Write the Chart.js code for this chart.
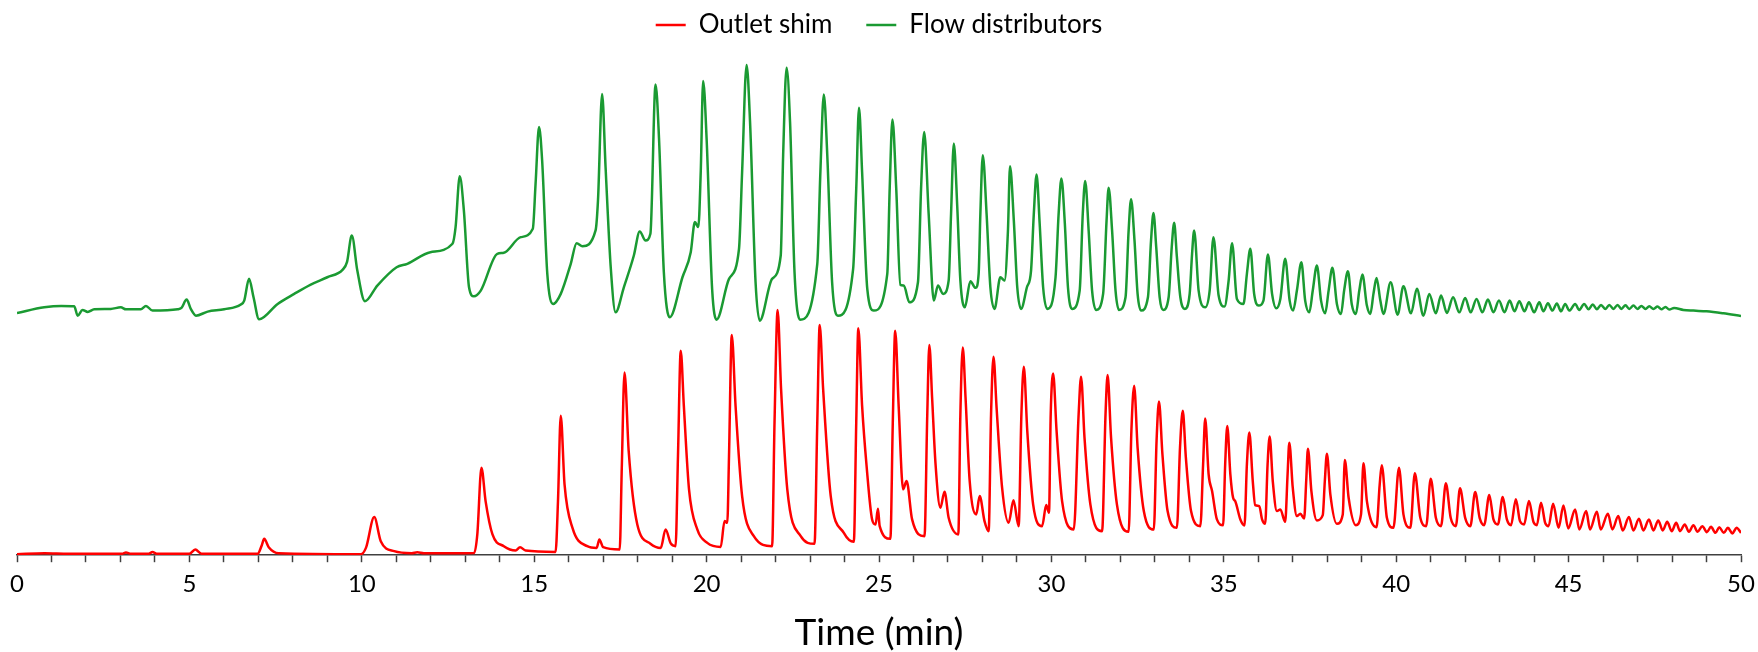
<!DOCTYPE html>
<html>
<head>
<meta charset="utf-8">
<script src="https://cdn.jsdelivr.net/npm/chart.js@4.4.0/dist/chart.umd.min.js"></script>
<style>
html,body{margin:0;padding:0;background:#fff;}
#wrap{width:1758px;height:652px;}
</style>
</head>
<body>
<div id="wrap"><canvas id="c" width="1758" height="652"></canvas></div>
<script>
// Time axis ticks (min)
const xTicksMajor = [0, 5, 10, 15, 20, 25, 30, 35, 40, 45, 50];

// Outlet shim (red) - time (min) and detector signal (arb. units)
const shimTime = [0,0.8,1.5,2.5,3.05,3.16,3.3,3.82,3.93,4.05,5.0,5.17,5.35,6.98,7.1,7.17,7.3,7.59,9.97,10.12,10.36,10.55,10.94,11.45,11.61,11.8,13.26,13.35,13.47,13.59,13.79,14.12,14.46,14.59,14.75,15.62,15.69,15.77,15.88,16.11,16.54,16.81,16.89,17.0,17.48,17.54,17.62,17.74,17.99,18.37,18.67,18.81,18.96,19.1,19.17,19.25,19.34,19.49,19.73,20.02,20.41,20.52,20.6,20.65,20.73,20.84,21.03,21.37,21.9,21.97,22.06,22.16,22.34,22.73,23.13,23.21,23.28,23.38,23.6,23.98,24.27,24.34,24.4,24.51,24.64,24.8,24.9,24.97,25.02,25.33,25.4,25.47,25.57,25.7,25.8,25.96,26.32,26.4,26.46,26.54,26.64,26.78,26.9,27.02,27.3,27.36,27.43,27.51,27.63,27.82,27.92,28.06,28.18,28.25,28.32,28.41,28.57,28.76,28.9,29.05,29.13,29.2,29.3,29.47,29.73,29.85,29.93,29.98,30.05,30.15,30.31,30.65,30.79,30.86,30.96,31.13,31.47,31.57,31.63,31.73,31.9,32.24,32.32,32.4,32.5,32.68,32.97,33.05,33.12,33.22,33.37,33.64,33.73,33.81,33.9,34.05,34.32,34.4,34.46,34.56,34.66,34.8,34.98,35.04,35.1,35.19,35.27,35.33,35.48,35.6,35.67,35.74,35.84,35.91,36.03,36.11,36.2,36.27,36.33,36.42,36.54,36.64,36.78,36.85,36.9,37.0,37.12,37.22,37.33,37.39,37.44,37.54,37.7,37.87,37.93,37.99,38.09,38.28,38.45,38.51,38.62,38.83,38.98,39.05,39.15,39.43,39.52,39.58,39.73,39.92,40.08,40.21,40.41,40.54,40.7,40.87,41.0,41.15,41.3,41.44,41.58,41.73,41.85,42.0,42.15,42.29,42.42,42.55,42.7,42.82,42.95,43.09,43.21,43.33,43.47,43.59,43.71,43.85,43.98,44.08,44.2,44.32,44.42,44.55,44.71,44.85,44.99,45.19,45.31,45.51,45.62,45.82,45.93,46.14,46.27,46.44,46.57,46.75,46.88,47.04,47.17,47.33,47.46,47.6,47.73,47.86,47.99,48.12,48.23,48.37,48.49,48.62,48.74,48.88,49.01,49.13,49.26,49.37,49.5,49.62,49.75,49.87,50.0];
const shimValue = [1,2,1.5,1.5,1.5,2.8,1.5,1.5,3.2,1.5,1.5,5.7,1.5,1.5,10,16.3,8,2,1,7.3,38,14,4,2,3,2,2.3,20.7,87.3,54,20.7,9,4.7,8,4.7,3.3,54,139,70.7,27.3,9,7.3,15.7,8,5.7,87,182.3,104,30.7,11.5,7.3,25.7,11.7,9,99,204,149,65.7,25.7,12.3,8.3,34,32.3,99,219.7,149,59,19,9,132.3,244.7,165.7,65.7,19,11.3,132.3,229.7,165.7,59,22.3,13.3,132.3,226.3,149,89,35.7,30.7,46.3,29,16.3,132.3,224,149,65.7,74,35.7,19,140.7,209.7,157.3,90.7,47.3,63.3,37.3,20.7,140.7,207.3,157.3,74,40.7,59,34,24,140.7,198,147.3,67.3,32.3,54.7,29,140.7,188,124,50.7,29,50,42.3,140.7,181.3,124,54,25.7,140.7,178,117.3,50.7,24,140.7,179.7,117.3,50.7,23.3,124,169,107.3,44,25.7,114,153.3,100.7,44,27.3,107.3,144,97.3,44,29,90.7,136.3,80.7,64,35.7,30,90.7,129,80.7,57.3,54,35.7,29.7,90.7,122.3,74,50,49,35.7,31.3,90.7,118.3,74,44,45.7,33.3,80.7,112.3,67.3,39,41.3,36.7,74,106.3,64,34.7,40,74,101.3,60.7,31.3,40.7,95,57.3,30,40.7,91.7,54,28,70,89.7,37.3,27.3,87.3,40.7,27.3,81.7,37.3,29,76.3,37.3,29,71.7,37.3,29,66.7,37.3,29,63,37.3,30,60,35.7,30.7,58,35.7,30,55.7,34,30.7,54,33.3,30,52.3,32.3,29,51.3,27.3,49.7,26.7,45.7,25.7,44,25.7,43.3,25.7,41.3,25.7,39,24.7,38,24.7,36.3,24.7,35.7,24.7,34.7,24.7,33.3,24,32.3,24,30.7,23.3,30,23.3,29,23,28.3,22.3,28,22.3,27.3,21.7,27.3,22.3];

// Flow distributors (green) - time (min) and detector signal (arb. units)
const flowTime = [0,0.79,1.28,1.66,1.76,1.9,2.05,2.24,2.72,3.01,3.16,3.59,3.74,3.93,4.66,4.77,4.92,5.04,5.19,5.53,6.01,6.49,6.59,6.73,6.86,7.02,7.56,8.04,8.52,9.0,9.44,9.57,9.71,9.87,10.09,10.45,11.01,11.32,11.99,12.63,12.72,12.84,12.96,13.11,13.25,13.45,13.93,14.12,14.61,14.96,15.04,15.14,15.23,15.38,15.55,15.77,16.06,16.23,16.4,16.78,16.85,16.97,17.07,17.22,17.36,17.6,17.89,18.06,18.23,18.37,18.52,18.62,18.76,18.93,19.3,19.54,19.66,19.76,19.83,19.9,20.0,20.16,20.29,20.65,20.94,21.03,21.16,21.26,21.42,21.54,21.9,22.15,22.22,22.32,22.42,22.55,22.71,23.21,23.3,23.4,23.5,23.64,23.81,24.25,24.34,24.42,24.51,24.66,24.85,25.24,25.31,25.39,25.5,25.62,25.72,25.88,26.13,26.22,26.31,26.44,26.59,26.71,26.86,27.02,27.09,27.17,27.27,27.36,27.49,27.65,27.8,27.89,27.94,28.01,28.12,28.23,28.35,28.52,28.64,28.74,28.8,28.91,29.01,29.12,29.29,29.41,29.49,29.57,29.66,29.76,29.88,30.12,30.21,30.29,30.39,30.48,30.6,30.82,30.91,30.98,31.08,31.18,31.3,31.5,31.6,31.66,31.76,31.86,31.96,32.15,32.24,32.31,32.41,32.5,32.6,32.8,32.89,32.96,33.04,33.14,33.24,33.4,33.49,33.56,33.64,33.74,33.87,34.01,34.08,34.14,34.27,34.46,34.59,34.7,34.85,35.02,35.14,35.24,35.38,35.57,35.67,35.77,35.88,36.01,36.15,36.28,36.4,36.52,36.64,36.78,36.91,37.01,37.12,37.25,37.36,37.48,37.58,37.7,37.82,37.94,38.04,38.15,38.28,38.4,38.49,38.6,38.71,38.83,38.93,39.02,39.15,39.25,39.34,39.43,39.54,39.63,39.84,40.04,40.21,40.43,40.6,40.79,40.96,41.15,41.3,41.47,41.65,41.83,42.0,42.16,42.33,42.5,42.66,42.82,42.98,43.14,43.29,43.43,43.57,43.72,43.85,44.0,44.15,44.27,44.4,44.53,44.66,44.78,44.9,45.02,45.19,45.31,45.45,45.58,45.7,45.82,45.94,46.07,46.18,46.3,46.42,46.53,46.65,46.76,46.88,47.0,47.11,47.23,47.34,47.46,47.58,47.69,47.81,47.92,48.06,48.33,48.62,49.0,49.49,50.0];
const flowValue = [241.7,247.3,248.7,248.3,239,244.7,242.7,245.3,245.7,247.3,245.3,245.3,248.7,244,245.3,246.7,255,245.7,239,243,245.3,250,254,275.7,257.3,235.3,250.7,260.7,270,277.3,284.7,292.3,319,284,253.3,269,287.3,290.7,302.3,310.7,327.3,378,344,267.3,258.3,264,300.7,301.7,317.3,325.7,370.7,427.3,394,280.7,250.7,260.7,290.7,311.3,308.3,324,354,460,387,287,242.3,267.3,299,323,314,320.7,469.7,415.7,282.3,237.3,277.3,302.3,332.3,327.3,382.3,473,415.7,265.7,235,275.7,305.7,382.3,489,432.3,272.3,234,275.7,299,399,486.3,432.3,282.3,235,290.7,382.3,459.7,399,272.3,239,285.7,365.7,446.3,382.3,265.7,244,280.7,365.7,434.7,365.7,269.7,269,252.3,272.3,365.7,422.3,340.7,254,269,260.7,274,340.7,410.7,347.3,274,247.3,273.3,266.7,280.7,340.7,399,340.7,267.3,245.7,277.3,274,324,388,334,267.3,245.7,267.3,284,340.7,379.7,330.7,267.3,245.7,277.3,340.7,375.7,330.7,267.3,245.7,264,340.7,373.3,324,264,244.7,260.7,334,366.7,324,264,244.7,257.3,324,355,314,260.7,244,257.3,314,341.3,307.3,257.3,244.7,257.3,307.3,331.7,297.3,257.3,245.7,260.7,300.7,324,264,247.3,264,317.3,259,248,274,311.3,255.7,250.7,280.7,305.7,260.7,249,254,300,260.7,246.3,255.7,295.7,254,244,264,292.3,254,242.3,264,289,254,241.3,264,286.7,250.7,240.7,264,283.3,250.7,240.7,264,280,249,240.7,260.7,276.5,254,240.7,272.3,240,268.3,241.3,265.7,239,260.7,241.3,259,241.7,257.3,242.3,256.7,242.3,255.7,242.3,255,242.3,254,242.3,254,243.3,253.3,243.3,252.3,242.3,252.3,243.3,251.3,244,251,243.3,250.7,244,250.7,244.7,250.7,245.3,250,245.3,249.7,245.7,249.7,245.7,249.7,245.7,249.3,245.7,249,245.7,248.7,245.7,248.3,245.7,248,245.3,247.7,245,246.7,244.7,244,243.3,241.3,238.7];

const FONT = 'Lato, "Open Sans", sans-serif';
const toXY = (t, v) => t.map((x, i) => ({x: x, y: v[i]}));

new Chart(document.getElementById('c'), {
  type: 'line',
  data: {
    datasets: [
      {
        label: 'Outlet shim',
        data: toXY(shimTime, shimValue),
        borderColor: '#ff0000',
        backgroundColor: '#ff0000',
        borderWidth: 2.5,
        pointRadius: 0,
        cubicInterpolationMode: 'monotone',
        fill: false
      },
      {
        label: 'Flow distributors',
        data: toXY(flowTime, flowValue),
        borderColor: 'rgb(26,154,50)',
        backgroundColor: 'rgb(26,154,50)',
        borderWidth: 2.5,
        pointRadius: 0,
        cubicInterpolationMode: 'monotone',
        fill: false
      }
    ]
  },
  options: {
    responsive: false,
    animation: false,
    devicePixelRatio: 1,
    events: [],
    layout: { autoPadding: false, padding: { left: 17, right: 17, top: -22, bottom: 0 } },
    plugins: {
      legend: {
        display: true,
        position: 'top',
        labels: {
          usePointStyle: true,
          pointStyle: 'line',
          pointStyleWidth: 30,
          color: '#000',
          padding: 34,
          font: { family: FONT, size: 26 }
        }
      },
      tooltip: { enabled: false }
    },
    scales: {
      x: {
        type: 'linear',
        position: 'bottom',
        min: 0,
        max: 50,
        afterBuildTicks: (scale) => {
          const t = [];
          for (let v = 0; v <= 50; v++) t.push({ value: v });
          scale.ticks = t;
        },
        afterFit: (scale) => {
          scale.paddingLeft = 0;
          scale.paddingRight = 0;
        },
        ticks: {
          autoSkip: false,
          maxRotation: 0,
          color: '#000',
          padding: 8,
          font: { family: FONT, size: 24 },
          callback: (v) => xTicksMajor.includes(v) ? String(v) : ''
        },
        grid: {
          display: true,
          drawOnChartArea: false,
          drawTicks: true,
          tickLength: 7,
          tickColor: '#404040',
          tickWidth: 1.5
        },
        border: { display: true, color: '#404040', width: 1.5 },
        title: {
          display: true,
          text: 'Time (min)',
          color: '#000',
          font: { family: FONT, size: 37, lineHeight: 1.0 },
          padding: { top: 8, bottom: 0 }
        }
      },
      y: {
        display: false,
        min: 0,
        max: 506
      }
    }
  }
});
</script>
</body>
</html>
